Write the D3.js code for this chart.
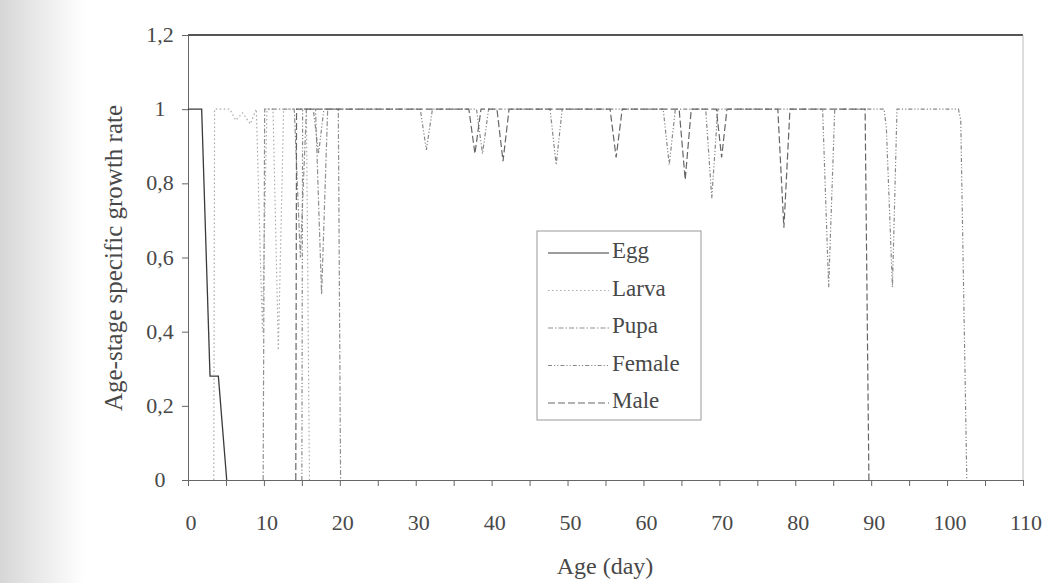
<!DOCTYPE html>
<html>
<head>
<meta charset="utf-8">
<script src="https://cdn.jsdelivr.net/npm/d3@7"></script>
<style>
  body { margin: 0; background: #fff; }
  text { font-family: "Liberation Serif", "DejaVu Serif", serif; fill: #484848; }
</style>
</head>
<body>
<svg id="chart" width="1048" height="583"></svg>
<script>
// data (age in days, growth rate)
var eggAges = [0, 1.8, 2.9, 4.0, 5.1];
var eggVals = [1, 1, 0.28, 0.28, 0];

var larvaAges = [3.4, 3.5, 5.5, 6.3, 7.2, 8.2, 9.0, 9.8, 10.4, 11.2, 11.9, 12.6, 15.6, 16.0];
var larvaVals = [0, 1, 1, 0.97, 0.99, 0.96, 1, 0.4, 1, 1, 0.35, 1, 1, 0];

var pupaAges = [9.9, 10.1, 14.0, 14.8, 15.6, 16.8, 17.6, 18.4, 19.8, 20.1];
var pupaVals = [0, 1, 1, 0.6, 1, 1, 0.5, 1, 1, 0];

var femaleAges = [15.0, 15.1, 16.5, 17.2, 17.9, 30.6, 31.4, 32.2, 38.0, 38.8, 39.6, 47.7, 48.5, 49.3,
                  62.6, 63.4, 64.2, 68.2, 69.0, 69.8, 83.6, 84.4, 85.2, 91.7, 92.0, 92.8, 93.4, 101.5, 101.8, 102.6];
var femaleVals = [0, 1, 1, 0.88, 1, 1, 0.89, 1, 1, 0.88, 1, 1, 0.85, 1,
                  1, 0.85, 1, 1, 0.76, 1, 1, 0.52, 1, 1, 0.95, 0.52, 1, 1, 0.97, 0];

var maleAges = [14.2, 14.3, 37.0, 37.8, 38.6, 40.7, 41.5, 42.3, 55.6, 56.4, 57.2, 64.7, 65.5, 66.3,
                69.6, 70.3, 71.0, 77.7, 78.5, 79.3, 89.2, 89.7];
var maleVals = [0, 1, 1, 0.88, 1, 1, 0.86, 1, 1, 0.87, 1, 1, 0.81, 1,
                1, 0.87, 1, 1, 0.68, 1, 1, 0];

var stageNames = ["Egg", "Larva", "Pupa", "Female", "Male"];
var stageAges = [eggAges, larvaAges, pupaAges, femaleAges, maleAges];
var stageVals = [eggVals, larvaVals, pupaVals, femaleVals, maleVals];
var stageColor = ["#3a3a3a", "#aaa", "#909090", "#888", "#666"];
var stageDash = ["none", "1.5,2.5", "5,2,1.5,2", "4,2,1.2,2,1.2,2", "7,3"];

var xTicks = [0, 10, 20, 30, 40, 50, 60, 70, 80, 90, 100, 110];
var yTicks = [0, 0.2, 0.4, 0.6, 0.8, 1, 1.2];

var svg = d3.select("#chart");

// scanner shadow on the left edge
var grad = svg.append("defs").append("linearGradient").attr("id", "scan");
grad.append("stop").attr("offset", "0%").attr("stop-color", "#d6d6d6");
grad.append("stop").attr("offset", "30%").attr("stop-color", "#e3e3e3");
grad.append("stop").attr("offset", "100%").attr("stop-color", "#fff");
svg.append("rect")
   .attr("x", 0).attr("y", 0).attr("width", 85).attr("height", 583)
   .attr("fill", "url(#scan)");

var x = d3.scaleLinear().domain([0, 110]).range([188, 1023]);
var y = d3.scaleLinear().domain([0, 1.2]).range([480, 35]);

var comma = function(d){ return d3.format("")(d).replace(".", ","); };

// frame: heavy top rule, faint right rule
svg.append("line")
   .attr("x1", x(0)).attr("x2", x(110))
   .attr("y1", y(1.2)).attr("y2", y(1.2))
   .attr("stroke", "#555").attr("stroke-width", 2);
svg.append("line")
   .attr("x1", x(110)).attr("x2", x(110))
   .attr("y1", y(1.2)).attr("y2", y(0))
   .attr("stroke", "#bbb").attr("stroke-width", 1);

// axes
var xAxis = svg.append("g")
   .attr("transform", "translate(0," + y(0) + ")")
   .call(d3.axisBottom(x).tickValues(d3.range(0, 111, 5)).tickSize(6).tickFormat(""));
xAxis.selectAll("line, path").attr("stroke", "#666");

svg.selectAll(".xlab")
   .data(xTicks)
   .enter()
   .append("text")
   .attr("class", "xlab")
   .attr("x", function(d){ return x(d) + 3; })
   .attr("y", 530)
   .attr("text-anchor", "middle")
   .attr("font-size", 22)
   .text(function(d){ return d; });

var yAxis = svg.append("g")
   .attr("transform", "translate(" + x(0) + ",0)")
   .call(d3.axisLeft(y).tickValues(yTicks).tickSize(6).tickFormat(""));
yAxis.selectAll("line, path").attr("stroke", "#666");

svg.selectAll(".ylab")
   .data(yTicks)
   .enter()
   .append("text")
   .attr("class", "ylab")
   .attr("x", 160)
   .attr("y", function(d){ return y(d) + 7; })
   .attr("text-anchor", "middle")
   .attr("font-size", 22)
   .text(comma);

// axis titles
svg.append("text")
   .attr("x", 605).attr("y", 574)
   .attr("text-anchor", "middle")
   .attr("font-size", 24)
   .text("Age (day)");
svg.append("text")
   .attr("transform", "translate(122,258) rotate(-90)")
   .attr("text-anchor", "middle")
   .attr("font-size", 25)
   .text("Age-stage specific growth rate");

// stage lines
var line = d3.line()
   .x(function(d){ return x(d[0]); })
   .y(function(d){ return y(d[1]); });

for(var i=0; i<stageNames.length; i++){
    var pts = d3.zip(stageAges[i], stageVals[i]);
    svg.append("path")
       .datum(pts)
       .attr("d", line)
       .attr("fill", "none")
       .attr("stroke", stageColor[i])
       .attr("stroke-width", i == 0 ? 1.3 : 1.2)
       .attr("stroke-dasharray", stageDash[i]);
}

// legend
var lg = svg.append("g");
lg.append("rect")
  .attr("x", 537).attr("y", 231)
  .attr("width", 164).attr("height", 189)
  .attr("fill", "#fff")
  .attr("stroke", "#999").attr("stroke-width", 1);

for(var i=0; i<stageNames.length; i++){
    var ly = 253 + 37.5*i;
    lg.append("line")
      .attr("x1", 548).attr("x2", 609)
      .attr("y1", ly).attr("y2", ly)
      .attr("stroke", stageColor[i])
      .attr("stroke-width", 1.2)
      .attr("stroke-dasharray", stageDash[i]);
    lg.append("text")
      .attr("x", 612).attr("y", ly + 5)
      .attr("font-size", 23)
      .text(stageNames[i]);
}
</script>
</body>
</html>
